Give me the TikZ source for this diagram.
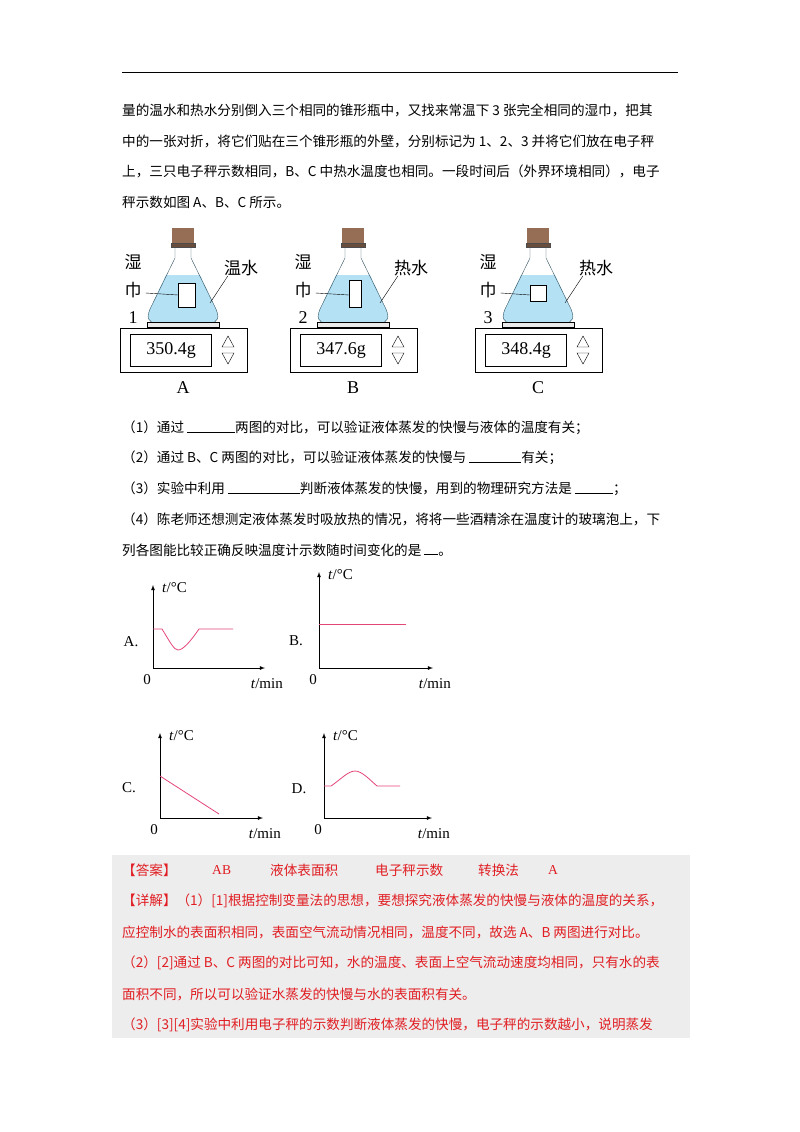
\documentclass[tikz,border=0pt]{standalone}
\usepackage{fontspec}
\setmainfont{Liberation Serif}
\newfontfamily\cjk{Noto Sans CJK SC}
\usepackage{tikz}
\definecolor{ansred}{RGB}{225,30,35}
\definecolor{curve}{RGB}{228,70,120}
\definecolor{cork}{RGB}{150,110,85}
\definecolor{water}{RGB}{120,200,235}
\tikzset{
  txt/.style={anchor=west,inner sep=0pt,font=\cjk\fontsize{13.6}{16}\selectfont},
  red/.style={txt,text=ansred},
  lbl/.style={inner sep=0pt,font=\cjk\fontsize{17}{20}\selectfont},
  axis/.style={thick,-latex},
  plot/.style={curve,thick},
  gl/.style={inner sep=0pt,font=\fontsize{15}{17}\selectfont}
}
\begin{document}
\begin{tikzpicture}[x=1pt,y=-1pt]
\useasboundingbox (0,0) rectangle (800,1132);
\fill[white] (0,0) rectangle (800,1132);
\draw[thick] (122,72) -- (678,72);

% text above the pictures
\node[txt] (l1) at (122,110) {量的温水和热水分别倒入三个相同的锥形瓶中，又找来常温下 3 张完全相同的湿巾，把其};
\node[txt] (l2) at (122,141) {中的一张对折，将它们贴在三个锥形瓶的外壁，分别标记为 1、2、3 并将它们放在电子秤};
\node[txt] (l3) at (122,171) {上，三只电子秤示数相同，B、C 中热水温度也相同。一段时间后（外界环境相同），电子};
\node[txt] (l4) at (122,202) {秤示数如图 A、B、C 所示。};

% the three flasks
\foreach \cx/\nm/\num/\wt/\rd/\ta/\tb/\tc/\td in
  {183/A/1/温水/350.4g/-5/283/12/307,
   353/B/2/热水/347.6g/-4/280/8/307,
   538/C/3/热水/348.4g/-8/285/8/301}{
  \begin{scope}[shift={(\cx,0)}]
    \fill[water!55] (-17,275) -- (-31,305) .. controls (-38,318) and (-35,323) .. (-26,323)
      -- (26,323) .. controls (35,323) and (38,318) .. (31,305) -- (17,275) -- cycle;
    \draw[black!60!water] (-8,245) -- (-8,258) -- (-31,305) .. controls (-38,318) and (-35,323) .. (-26,323)
      -- (26,323) .. controls (35,323) and (38,318) .. (31,305) -- (8,258) -- (8,245);
    \fill[cork] (-11,228) rectangle (11,245);
    \draw[black!70,fill=cork!70!black] (-12,243) rectangle (12,247);
    \draw[fill=white] (\ta,\tb) rectangle (\tc,\td);
    \draw[fill=black!8] (-36,322) rectangle (36,327);
    \draw[thick] (-63,328) rectangle (64,372);
    \draw (-53,334) rectangle (28,366);
    \node[gl,font=\fontsize{18}{20}\selectfont] (r\nm) at (-12,350) {\rd};
    \draw (45,336) -- (39,347) -- (51,347) -- cycle;
    \draw (39,353) -- (51,353) -- (45,364) -- cycle;
    \node[lbl] (w\nm) at (-50,262) {湿};
    \node[lbl] (j\nm) at (-50,290) {巾};
    \node[lbl,font=\fontsize{18}{20}\selectfont] (n\nm) at (-50,318) {\num};
    \node[lbl] (h\nm) at (58,268) {\wt};
    \node[gl,font=\fontsize{18}{20}\selectfont] (c\nm) at (0,388) {\nm};
    \coordinate (p\nm) at (\ta,295);
    \coordinate (q\nm) at (27,303);
    \draw (j\nm.east) ++(4,3) -- (p\nm);
    \draw (h\nm.south west) ++(4,0) -- (q\nm);
  \end{scope}
}

% questions
\node[txt] (q1) at (122,428) {（1）通过 \rule{48pt}{0.8pt}两图的对比，可以验证液体蒸发的快慢与液体的温度有关；};
\node[txt] (q2) at (122,458) {（2）通过 B、C 两图的对比，可以验证液体蒸发的快慢与 \rule{52pt}{0.8pt}有关；};
\node[txt] (q3) at (122,489) {（3）实验中利用 \rule{72pt}{0.8pt}判断液体蒸发的快慢，用到的物理研究方法是 \rule{38pt}{0.8pt}；};
\node[txt] (q4) at (122,519) {（4）陈老师还想测定液体蒸发时吸放热的情况，将将一些酒精涂在温度计的玻璃泡上，下};
\node[txt] (q5) at (122,550) {列各图能比较正确反映温度计示数随时间变化的是 \rule{14pt}{0.8pt}。};

% graphs
\foreach \ox/\oy/\top/\xe/\nm in {153/668/585/265/A,319/668/572/433/B,160/818/733/263/C,324/818/733/432/D}{
  \begin{scope}[shift={(\ox,\oy)}]
    \coordinate (o\nm) at (0,0);
    \coordinate (ty\nm) at (0,\top-\oy);
    \coordinate (tx\nm) at (\xe-\ox,0);
    \draw[axis] (o\nm) -- (ty\nm);
    \draw[axis] (o\nm) -- (tx\nm);
    \node[gl,anchor=west] (yl\nm) at ([xshift=9pt,yshift=-3pt]ty\nm) {\textit{t}/°C};
    \node[gl] (z\nm) at (-6,12) {0};
    \node[gl,anchor=east] (xl\nm) at ([xshift=18pt,yshift=-16pt]tx\nm) {\textit{t}/min};
  \end{scope}
}
\node[gl] (gA) at (131,642) {A.};
\node[gl] (gB) at (296,641) {B.};
\node[gl] (gC) at (129,788) {C.};
\node[gl] (gD) at (299,789) {D.};
\draw[plot] (153,629) -- (162,629) .. controls (170,642) and (174,650) .. (178,650)
  .. controls (183,650) and (190,642) .. (199,629) -- (233,629);
\draw[plot] (319,624) -- (406,624);
\draw[plot] (160,776) -- (219,814);
\draw[plot] (324,786) -- (331,786) .. controls (340,780) and (348,771) .. (355,771)
  .. controls (362,771) and (370,780) .. (377,786) -- (400,786);

% answer
\fill[black!7] (112,855) rectangle (690,1038);
\node[red] (a0) at (122,870) {【答案】};
\node[red] (a1) at (212,870) {\rmfamily AB};
\node[red] (a2) at (270,870) {液体表面积};
\node[red] (a3) at (375,870) {电子秤示数};
\node[red] (a4) at (478,870) {转换法};
\node[red] (a5) at (548,870) {\rmfamily A};
\node[red] (d1) at (122,901) {【详解】（1）[1]根据控制变量法的思想，要想探究液体蒸发的快慢与液体的温度的关系，};
\node[red] (d2) at (122,932) {应控制水的表面积相同，表面空气流动情况相同，温度不同，故选 A、B 两图进行对比。};
\node[red] (d3) at (122,963) {（2）[2]通过 B、C 两图的对比可知，水的温度、表面上空气流动速度均相同，只有水的表};
\node[red] (d4) at (122,994) {面积不同，所以可以验证水蒸发的快慢与水的表面积有关。};
\node[red] (d5) at (122,1025) {（3）[3][4]实验中利用电子秤的示数判断液体蒸发的快慢，电子秤的示数越小，说明蒸发};
\end{tikzpicture}
\end{document}
